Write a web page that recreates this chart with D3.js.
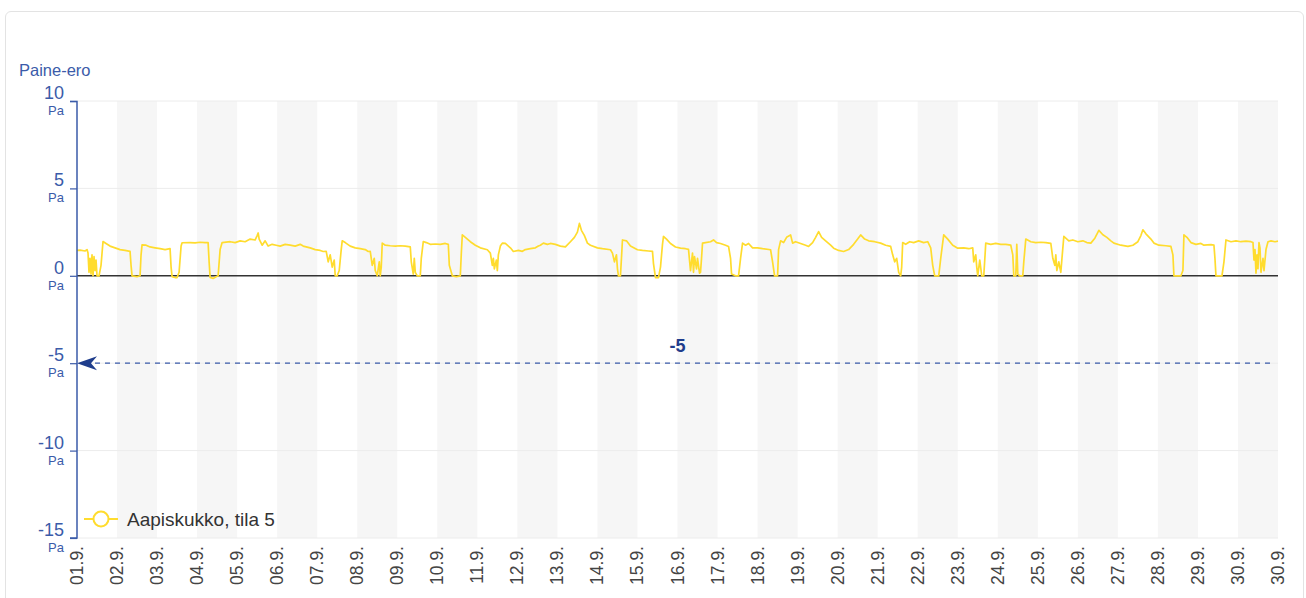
<!DOCTYPE html>
<html>
<head>
<meta charset="utf-8">
<script src="https://cdn.jsdelivr.net/npm/d3@7"></script>
<style>
  body { margin: 0; background: #fff; font-family: "Liberation Sans", Arial, sans-serif; }
  .card { position: absolute; left: 5px; top: 11px; width: 1299px; height: 600px;
          border: 1px solid #e3e3e3; border-radius: 6px; box-sizing: border-box; }
</style>
</head>
<body>
<div class="card"></div>
<div id="chart" style="position:absolute;left:0;top:0;"></div>
<script>
// Chart data: hours since 01.9. 00:00 and pressure difference (Pa)
var seriesName = "Aapiskukko, tila 5";
var hours = [0,1.8,4.8,6,6.6,7.2,7.8,8.4,9,9.6,10.2,10.8,11.4,12,13.2,14.4,15.6,17.4,19.8,22.8,
  25.8,28.8,31.8,32.4,33,36,37.8,38.4,39,41.4,43.8,46.8,49.8,52.8,55.8,56.4,57,58.8,60,61.2,
  62.4,63,67.8,70.8,73.8,76.8,78.6,79.2,79.8,81.6,83.4,84.6,85.8,87,91.8,94.8,97.8,100.8,103.8,106.8,
  108,108.6,109.2,111,112.8,114.6,117,119.4,121.8,124.8,127.8,130.8,133.8,135.6,139.8,142.8,145.8,147.6,149.4,150.6,
  151.8,153,154.2,154.8,156,157.2,158.4,159,160.8,163.8,166.8,169.8,172.8,174.6,175.8,177,178.2,178.8,180,181.2,
  181.8,182.4,183,184.8,187.8,190.8,193.8,196.8,199.8,200.4,201.6,202.2,202.8,204,205.8,206.4,207.6,209.4,211.8,214.8,
  217.8,220.8,222.6,223.2,225,227.4,229.8,230.4,231,232.8,235.8,238.8,241.8,246,247.8,249,249.6,250.2,251.4,252,
  252.6,253.8,255,256.8,259.8,261.6,264.6,267,268.8,271.8,274.8,276.6,277.8,279.6,282,283.8,286.8,289.8,292.8,295.8,
  298.2,300,301.2,302.4,304.2,306,307.8,312,315,319.8,321,322.2,323.4,324,324.6,325.8,326.4,327,329.4,331.8,
  336,339,342.6,345,345.6,346.8,348.6,349.8,351,351.6,353.4,355.8,358.8,361.8,364.8,366.6,367.2,367.8,369,369.6,
  370.2,371.4,372,373.2,373.8,374.4,375,376.8,379.8,381.6,383.4,385.8,388.8,390.6,391.8,392.4,394.8,396.6,397.8,399,
  400.8,402.6,405,408,411,415.8,417,418.2,420,420.6,421.8,423.6,425.4,427.8,429,430.8,433.8,436.8,438.6,441,
  442.8,444.6,446.4,448.8,451.8,453.6,456.6,459.6,462.6,465.6,468,469.8,472.2,474.6,478.2,481.8,484.8,487.8,489,490.2,
  491.4,492.6,493.8,494.4,495,496.8,499.2,501.6,504.6,507.6,510,511.8,513,514.2,516.6,517.8,519.6,522,525,528,
  531.6,534.6,537,537.6,538.8,539.4,540,541.2,542.4,543.6,544.2,544.8,547.8,550.8,553.8,556.8,559.8,561,561.6,562.8,
  563.4,564,565.2,567,567.6,568.8,571.8,574.8,577.8,580.8,583.8,585,586.2,586.8,587.4,588.6,589.8,590.4,591.6,594.6,
  597,600,603,605.4,607.8,610.2,612.6,615,617.4,619.8,621.6,625.8,630,633,636,637.8,639,640.8,643.8,645.6,
  648.6,652.8,655.8,657,657.6,661.8,663,663.6,665.4,667.8,670.8,673.8,675.6,679.8,681.6,682.2,682.8,686.4,687.6,688.8,
  691.8,694.8,697.8,700.8,703.8,705,705.6,706.2,706.8,707.4,708,708.6,709.2,709.8,711,711.6,712.8,714,715.8,718.2,720];
var values = [1.45,1.47,1.42,1.5,1.3,0.2,1.0,0.1,1.2,0.0,1.1,0.3,0.9,0.0,0.0,0.6,1.96,1.85,1.7,1.6,
  1.5,1.45,1.4,0.6,0.0,-0.05,0.0,1.2,1.77,1.75,1.65,1.6,1.55,1.5,1.55,0.5,-0.05,-0.1,-0.1,0.2,
  1.7,1.89,1.9,1.88,1.92,1.9,1.9,0.8,-0.1,-0.15,-0.05,0.0,1.5,1.9,1.95,1.9,2.0,1.95,2.1,2.05,
  2.3,2.45,2.1,1.75,2.0,1.7,1.8,1.75,1.7,1.8,1.75,1.7,1.8,1.7,1.6,1.5,1.45,1.39,1.4,0.8,
  1.2,0.5,0.9,0.0,0.0,0.3,1.5,2.0,1.9,1.7,1.6,1.55,1.5,1.39,1.4,0.6,1.0,0.3,0.0,0.8,
  0.0,0.5,1.87,1.75,1.72,1.7,1.72,1.7,1.65,0.8,0.1,1.0,0.2,0.0,0.0,1.0,1.96,1.9,1.8,1.82,
  1.8,1.85,1.8,0.6,0.0,-0.05,0.0,1.3,2.34,2.2,1.95,1.75,1.6,1.49,1.3,0.6,1.0,0.4,0.9,0.3,
  1.2,1.7,1.87,1.85,1.6,1.39,1.45,1.4,1.5,1.55,1.6,1.7,1.75,1.87,1.8,1.85,1.8,1.7,1.65,1.95,
  2.2,2.5,3.0,2.6,2.3,1.87,1.75,1.6,1.55,1.49,1.3,0.8,1.2,0.4,0.0,0.0,1.0,2.05,2.0,1.7,
  1.49,1.45,1.42,1.4,0.7,-0.1,-0.1,0.5,1.8,2.25,2.1,1.85,1.65,1.58,1.55,1.51,0.9,0.3,1.3,0.2,
  1.1,0.4,1.0,0.15,0.2,1.0,1.87,1.9,1.95,2.05,1.9,1.85,1.75,1.68,1.0,0.1,0.0,0.0,1.0,1.87,
  1.75,1.85,1.6,1.6,1.55,1.49,0.8,0.0,0.0,1.5,2.0,1.9,2.2,2.34,1.87,1.95,1.85,1.75,1.68,1.9,
  2.2,2.53,2.2,2.0,1.75,1.58,1.45,1.39,1.5,1.8,2.1,2.34,2.1,2.0,1.95,1.87,1.75,1.68,1.2,0.8,
  1.0,0.2,0.0,0.5,1.9,1.8,1.95,1.9,2.0,1.9,1.95,1.6,0.6,0.0,0.0,1.0,2.34,2.1,1.75,1.58,
  1.6,1.55,1.6,0.8,1.2,0.5,0.0,0.9,0.0,0.0,0.9,1.87,1.8,1.85,1.8,1.8,1.75,1.2,0.0,0.0,
  1.8,0.1,0.0,0.0,0.8,2.1,1.95,1.9,1.92,1.9,1.85,1.0,0.6,1.2,0.3,0.8,0.2,0.9,2.25,2.0,
  2.05,1.95,2.0,1.9,1.87,2.15,2.6,2.35,2.2,2.0,1.87,1.75,1.68,1.75,1.95,2.3,2.63,2.4,2.1,1.87,
  1.75,1.72,1.68,1.2,0.0,0.0,0.3,2.34,2.2,1.9,1.8,1.85,1.75,1.78,1.75,1.0,0.0,0.0,0.8,2.05,
  1.95,2.0,1.95,1.98,1.95,1.9,0.9,1.5,0.15,1.2,0.4,1.9,1.6,0.2,1.0,0.3,1.5,1.95,2.0,1.95,1.98];
var yTicks = [10, 5, 0, -5, -10, -15];
var limitValue = -5;

var svgWidth = 1306;
var svgHeight = 598;
var margin = { top: 101, left: 77 };
var chartWidth = 1201;
var chartHeight = 437;

var blue = "#3b5ba9";
var yellow = "#ffdc2e";

var svg = d3.select("#chart")
  .append("svg")
  .attr("width", svgWidth)
  .attr("height", svgHeight);

var startDate = new Date(2023, 8, 1, 0, 0, 0);
var endDate = new Date(2023, 8, 30, 23, 59, 59);

var x = d3.scaleTime().domain([startDate, endDate]).range([0, chartWidth]);
var y = d3.scaleLinear().domain([-15, 10]).range([chartHeight, 0]);

var chartGroup = svg.append("g")
  .attr("transform", `translate(${margin.left}, ${margin.top})`);

// alternating day bands
var days = d3.timeDay.range(startDate, endDate);
chartGroup.selectAll(".band")
  .data(days.filter((d, i) => i % 2 === 1))
  .enter()
  .append("rect")
  .attr("x", d => x(d))
  .attr("y", 0)
  .attr("width", d => Math.min(x(d3.timeDay.offset(d, 1)), chartWidth) - x(d))
  .attr("height", chartHeight)
  .attr("fill", "#f6f6f6");

// horizontal grid
chartGroup.selectAll(".grid")
  .data(yTicks.filter(d => d !== 0))
  .enter()
  .append("line")
  .attr("x1", 0)
  .attr("x2", chartWidth)
  .attr("y1", d => y(d))
  .attr("y2", d => y(d))
  .attr("stroke", "#ececec")
  .attr("stroke-width", 1);

// zero line
chartGroup.append("line")
  .attr("x1", 0)
  .attr("x2", chartWidth)
  .attr("y1", y(0))
  .attr("y2", y(0))
  .attr("stroke", "#333")
  .attr("stroke-width", 1.5);

// series line
var data = hours.map((h, i) => ({ date: new Date(startDate.getTime() + h * 3600000), value: values[i] }));
var line = d3.line()
  .x(d => x(d.date))
  .y(d => y(d.value));
chartGroup.append("path")
  .datum(data)
  .attr("d", line)
  .attr("fill", "none")
  .attr("stroke", yellow)
  .attr("stroke-width", 1.7)
  .attr("stroke-linejoin", "round");

// limit line at -5
chartGroup.append("line")
  .attr("x1", 8)
  .attr("x2", x(d3.timeHour.offset(endDate, -3)))
  .attr("y1", y(limitValue))
  .attr("y2", y(limitValue))
  .attr("stroke", blue)
  .attr("stroke-width", 1.3)
  .attr("stroke-dasharray", "5,5");
chartGroup.append("path")
  .attr("d", `M0,${y(limitValue)} L20,${y(limitValue) - 7} L14,${y(limitValue)} L20,${y(limitValue) + 7} Z`)
  .attr("fill", "#1f3d8c");
chartGroup.append("text")
  .attr("x", chartWidth / 2)
  .attr("y", y(limitValue) - 11)
  .attr("text-anchor", "middle")
  .attr("font-size", "18px")
  .attr("font-weight", "bold")
  .attr("fill", "#1f3d8c")
  .text(limitValue);

// y axis
var leftAxis = d3.axisLeft(y).tickValues(yTicks).tickSize(7).tickFormat("");
var yAxis = chartGroup.append("g").call(leftAxis);
yAxis.select(".domain").attr("stroke", blue).attr("stroke-width", 1.5).attr("d", `M-7,0.5H0V${chartHeight}H-7`);
yAxis.selectAll(".tick line").attr("stroke", blue).attr("stroke-width", 1.2);

var yLabels = chartGroup.selectAll(".ylab")
  .data(yTicks)
  .enter()
  .append("g")
  .attr("transform", d => `translate(-13, ${y(d)})`);
yLabels.append("text")
  .attr("y", -2)
  .attr("text-anchor", "end")
  .attr("font-size", "18px")
  .attr("fill", blue)
  .text(d => d);
yLabels.append("text")
  .attr("y", 14)
  .attr("text-anchor", "end")
  .attr("font-size", "13px")
  .attr("fill", blue)
  .text("Pa");

svg.append("text")
  .attr("x", 19)
  .attr("y", 76)
  .attr("font-size", "16.5px")
  .attr("fill", blue)
  .text("Paine-ero");

// x axis labels
var xTicks = days.concat([endDate]);
var fmt = d3.timeFormat("%d.%-m.");
chartGroup.selectAll(".xlab")
  .data(xTicks)
  .enter()
  .append("text")
  .attr("transform", d => `translate(${x(d) + 6}, ${chartHeight + 8}) rotate(-90)`)
  .attr("text-anchor", "end")
  .attr("font-size", "17.5px")
  .attr("fill", "#444")
  .text(d => fmt(d));

// legend
var legend = svg.append("g").attr("transform", "translate(84, 519)");
legend.append("line")
  .attr("x1", 0).attr("x2", 34)
  .attr("stroke", yellow).attr("stroke-width", 2);
legend.append("circle")
  .attr("cx", 17).attr("r", 7.5)
  .attr("fill", "#fff").attr("stroke", yellow).attr("stroke-width", 2);
legend.append("text")
  .attr("x", 43).attr("y", 7)
  .attr("font-size", "19px")
  .attr("fill", "#333")
  .text(seriesName);
</script>
</body>
</html>
